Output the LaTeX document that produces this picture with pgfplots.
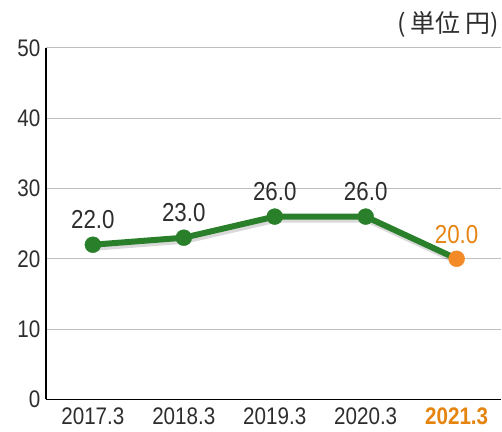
\documentclass[border=0pt]{standalone}
\usepackage{pgfplots}
\pgfplotsset{compat=1.18}
\usepackage{fontspec}
\setmainfont[FakeStretch=0.86]{Liberation Sans}
\newfontfamily\cjk{Noto Sans CJK JP}
\definecolor{lgreen}{RGB}{42,128,42}
\definecolor{dot}{RGB}{242,138,40}
\definecolor{otext}{RGB}{230,132,16}
\definecolor{txt}{RGB}{45,45,45}

\begin{document}
\begin{tikzpicture}
\begin{axis}[
  scale only axis,
  width=456pt, height=352pt,
  xmin=-0.516, xmax=4.49,
  ymin=0, ymax=50,
  axis lines*=left,
  axis line style={black, line width=1.6pt},
  ytick={0,10,20,30,40,50},
  xtick={0,1,2,3,4},
  xticklabels={2017.3,2018.3,2019.3,2020.3,\textcolor{otext}{\textbf{2021.3}}},
  major tick length=0pt,
  ymajorgrids,
  grid style={gray!50, line width=1pt},
  tick label style={font=\fontsize{24}{24}\selectfont, text=txt},
  yticklabel style={xshift=-2pt},
  xticklabel style={yshift=-5pt},
  /pgf/number format/assume math mode=true,
  nodes near coords style={font=\fontsize{26}{26}\selectfont, anchor=south, yshift=12pt,
    /pgf/number format/fixed, /pgf/number format/zerofill, /pgf/number format/precision=1},
  clip=false,
]
% soft shadow
\addplot[black, opacity=0.15, line width=6pt, shift={(1.5pt,-3pt)}] coordinates {(0,22) (1,23) (2,26) (3,26) (4,20)};
\addplot[lgreen, line width=6pt] coordinates {(0,22) (1,23) (2,26) (3,26) (4,20)};
\addplot[only marks, mark=*, mark size=8pt, lgreen, nodes near coords, every node near coord/.append style={text=txt}]
  coordinates {(0,22) (1,23) (2,26) (3,26)};
\addplot[only marks, mark=*, mark size=8pt, dot, nodes near coords, every node near coord/.append style={text=otext}]
  coordinates {(4,20)};
\node[anchor=south east, font=\cjk\fontsize{25}{25}\selectfont, text=txt, inner sep=0pt]
  at (rel axis cs:1,1) [yshift=10pt, xshift=-2pt] {(\,単位 円)};
\end{axis}
\path (current axis.south west) ++(-46pt,-32pt);
\path (current axis.north east) ++(0pt,48pt);
\end{tikzpicture}
\end{document}
